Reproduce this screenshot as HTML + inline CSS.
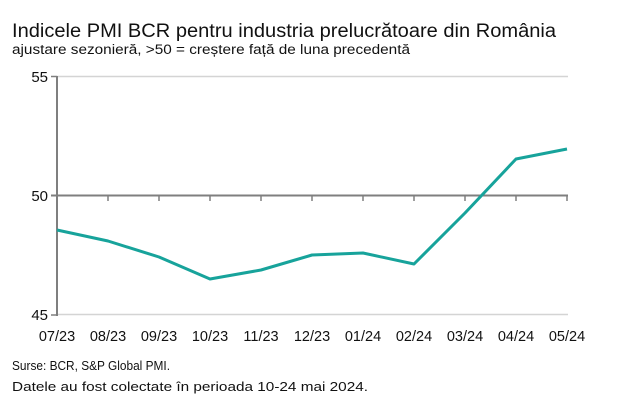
<!DOCTYPE html>
<html><head><meta charset="utf-8"><style>body{margin:0;background:#fff}svg{display:block}</style></head>
<body>
<svg width="622" height="408" xmlns="http://www.w3.org/2000/svg" font-family="Liberation Sans, sans-serif" fill="#111">
<text x="12" y="37" font-size="19" textLength="544" lengthAdjust="spacingAndGlyphs">Indicele PMI BCR pentru industria prelucrătoare din România</text>
<text x="12" y="54" font-size="13.5" textLength="398" lengthAdjust="spacingAndGlyphs">ajustare sezonieră, &gt;50 = creștere față de luna precedentă</text>
<line x1="57" y1="76.5" x2="568" y2="76.5" stroke="#d4d4d4" stroke-width="1.5"/>
<line x1="57" y1="314.5" x2="568" y2="314.5" stroke="#d4d4d4" stroke-width="1.5"/>
<line x1="57" y1="76" x2="57" y2="316" stroke="#7f7f7f" stroke-width="2"/>
<line x1="51" y1="76.5" x2="57" y2="76.5" stroke="#7f7f7f" stroke-width="1.5"/>
<line x1="51" y1="195.5" x2="568" y2="195.5" stroke="#7f7f7f" stroke-width="2"/>
<line x1="51" y1="315" x2="57" y2="315" stroke="#7f7f7f" stroke-width="1.5"/>
<g stroke="#7f7f7f" stroke-width="1.5">
<line x1="108" y1="195" x2="108" y2="201"/><line x1="159" y1="195" x2="159" y2="201"/><line x1="210" y1="195" x2="210" y2="201"/><line x1="261" y1="195" x2="261" y2="201"/><line x1="312" y1="195" x2="312" y2="201"/><line x1="363" y1="195" x2="363" y2="201"/><line x1="414" y1="195" x2="414" y2="201"/><line x1="465" y1="195" x2="465" y2="201"/><line x1="516" y1="195" x2="516" y2="201"/><line x1="567" y1="195" x2="567" y2="201"/>
</g>
<g font-size="15" text-anchor="end"><text x="48" y="82">55</text><text x="48" y="201">50</text><text x="48" y="320">45</text></g>
<polyline fill="none" stroke="#17a39b" stroke-width="3" stroke-linejoin="round" points="57,230 108,241 159,257 210,279 261,270 312,255 363,253 414,264 465,213 516,159 567,149"/>
<g font-size="14.5" text-anchor="middle">
<text x="57" y="341">07/23</text><text x="108" y="341">08/23</text><text x="159" y="341">09/23</text><text x="210" y="341">10/23</text><text x="261" y="341">11/23</text><text x="312" y="341">12/23</text><text x="363" y="341">01/24</text><text x="414" y="341">02/24</text><text x="465" y="341">03/24</text><text x="516" y="341">04/24</text><text x="567" y="341">05/24</text>
</g>
<text x="12" y="370" font-size="13" textLength="158" lengthAdjust="spacingAndGlyphs">Surse: BCR, S&amp;P Global PMI.</text>
<text x="12" y="391" font-size="13" textLength="356" lengthAdjust="spacingAndGlyphs">Datele au fost colectate în perioada 10-24 mai 2024.</text>
</svg>
</body></html>
